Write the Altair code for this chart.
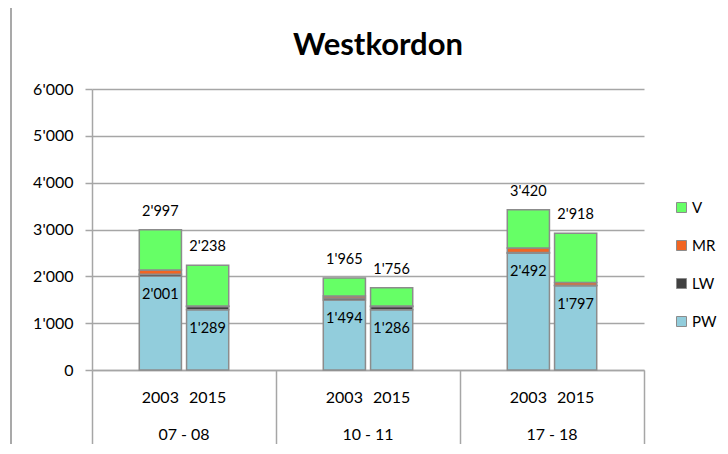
import altair as alt
import pandas as pd

groups = ["07 - 08", "10 - 11", "17 - 18"]
years = ["2003", "2015"]
series = ["PW", "LW", "MR", "V"]
legend_order = ["V", "MR", "LW", "PW"]
colors = ["#66FF66", "#F26522", "#404040", "#92CDDC"]

# values per bar (07-08 2003, 07-08 2015, 10-11 2003, 10-11 2015, 17-18 2003, 17-18 2015)
PW = [2001, 1289, 1494, 1286, 2492, 1797]
LW = [45, 65, 45, 70, 15, 15]
MR = [90, 10, 40, 10, 100, 55]
V = [861, 874, 386, 390, 813, 1051]
totals = [2997, 2238, 1965, 1756, 3420, 2918]

bar_group = [g for g in groups for _ in years]
bar_year = [y for _ in groups for y in years]

rows = []
for i in range(6):
    for k, (name, vals) in enumerate(zip(series, [PW, LW, MR, V])):
        rows.append({"group": bar_group[i], "year": bar_year[i], "series": name,
                     "value": vals[i], "ord": k})
df = pd.DataFrame(rows)
lab = pd.DataFrame({"group": bar_group, "year": bar_year, "total": totals, "pw": PW})

W, H = 552, 281
FONT = "Lato"
GRID = "#a6a6a6"

xscale = alt.Scale(domain=groups, paddingInner=0, paddingOuter=0)
xoff = alt.Scale(domain=years, paddingInner=0.108, paddingOuter=1)
fmt = "replace(format(datum.value, ','), ',', \"'\")"

base = alt.Chart(df)
bars = base.mark_bar(stroke="#8c8c8c", strokeWidth=1.5).encode(
    x=alt.X("group:N", scale=xscale, sort=groups,
            axis=alt.Axis(title=None, labels=False, tickBand="extent", tickSize=84,
                          tickColor=GRID, tickWidth=1.5, domainColor=GRID, domainWidth=1.5)),
    xOffset=alt.XOffset("year:N", scale=xoff, sort=years),
    y=alt.Y("value:Q", stack="zero",
            scale=alt.Scale(domain=[0, 6000]),
            axis=alt.Axis(title=None, values=[0, 1000, 2000, 3000, 4000, 5000, 6000],
                          labelExpr=fmt, labelFont=FONT, labelFontSize=16, labelColor="#000",
                          tickSize=7, tickColor=GRID, tickWidth=1.5, labelPadding=12,
                          domainColor=GRID, domainWidth=1.5, gridColor=GRID, gridWidth=1.5)),
    color=alt.Color("series:N", scale=alt.Scale(domain=legend_order, range=colors),
                    legend=alt.Legend(title=None, orient="none", legendX=582, legendY=111,
                                      symbolType="square", symbolSize=100,
                                      symbolStrokeColor="#8c8c8c", symbolStrokeWidth=1,
                                      labelFont=FONT, labelFontSize=15, labelColor="#000",
                                      rowPadding=22, labelOffset=3)),
    order=alt.Order("ord:Q", sort="ascending"),
)

lbase = alt.Chart(lab)
tot_text = lbase.mark_text(font=FONT, fontSize=14.5, dy=-18, baseline="middle").encode(
    x=alt.X("group:N", scale=xscale, sort=groups),
    xOffset=alt.XOffset("year:N", scale=xoff, sort=years),
    y=alt.Y("total:Q"),
    text=alt.Text("label_total:N"),
).transform_calculate(label_total=fmt.replace("datum.value", "datum.total"))
pw_text = lbase.mark_text(font=FONT, fontSize=14.5, dy=19, baseline="middle").encode(
    x=alt.X("group:N", scale=xscale, sort=groups),
    xOffset=alt.XOffset("year:N", scale=xoff, sort=years),
    y=alt.Y("pw:Q"),
    text=alt.Text("label_pw:N"),
).transform_calculate(label_pw=fmt.replace("datum.value", "datum.pw"))
year_text = lbase.mark_text(font=FONT, fontSize=16, baseline="middle").encode(
    x=alt.X("group:N", scale=xscale, sort=groups),
    xOffset=alt.XOffset("year:N", scale=xoff, sort=years),
    y=alt.value(H + 28),
    text="year:N",
)
grp_df = pd.DataFrame({"group": groups})
grp_text = alt.Chart(grp_df).mark_text(font=FONT, fontSize=16, baseline="middle").encode(
    x=alt.X("group:N", scale=xscale, sort=groups),
    y=alt.value(H + 65),
    text="group:N",
)
title_df = pd.DataFrame({"t": ["Westkordon"]})
title = alt.Chart(title_df).mark_text(font=FONT, fontSize=31, fontWeight="bold",
                                      baseline="alphabetic").encode(
    x=alt.value(286), y=alt.value(-34), text="t:N")
frame_top = alt.Chart(title_df).mark_rule(color="#8c8c8c", strokeWidth=1.5).encode(
    x=alt.value(-81), x2=alt.value(W + 80), y=alt.value(-84))
frame_left = alt.Chart(title_df).mark_rule(color="#8c8c8c", strokeWidth=1.5).encode(
    x=alt.value(-81), y=alt.value(-84), y2=alt.value(H + 80))

chart = alt.layer(frame_top, frame_left, bars, tot_text, pw_text, year_text, grp_text, title).properties(
    width=W, height=H,
    autosize=alt.AutoSizeParams(type="none"),
    padding={"left": 84, "top": 81, "right": 76, "bottom": 74},
).configure_view(stroke=None).configure_axis(grid=True).configure_axisX(grid=False)

chart.save("out.html", embed_options={"renderer": "svg", "actions": False})
